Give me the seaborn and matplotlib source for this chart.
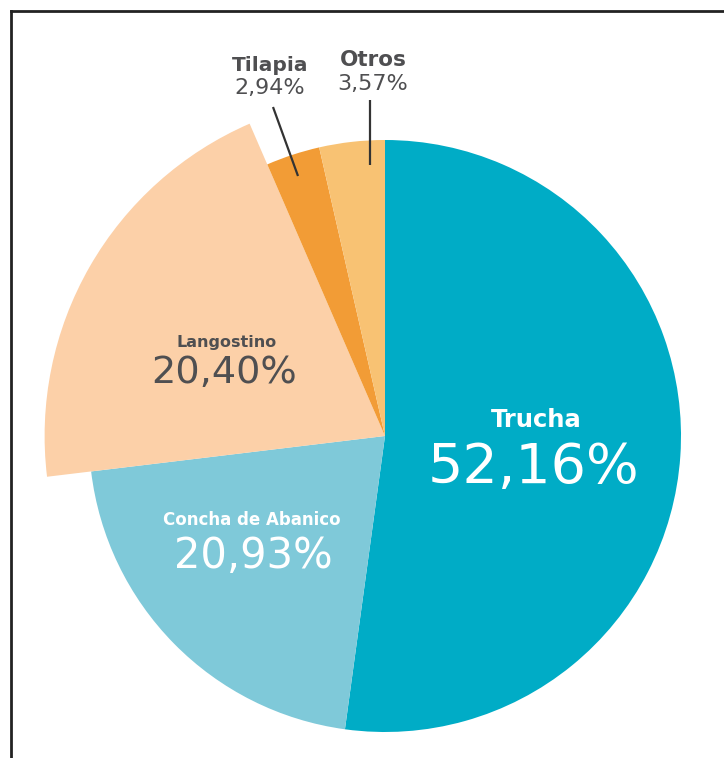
import matplotlib
matplotlib.use("Agg")
import matplotlib.pyplot as plt
import seaborn as sns

# data
species = ["Trucha", "Concha de Abanico", "Langostino", "Tilapia", "Otros"]
shares = [52.16, 20.93, 20.40, 2.94, 3.57]
share_labels = ["52,16%", "20,93%", "20,40%", "2,94%", "3,57%"]
colors = ["#00ACC6", "#7FC9D9", "#FCD0A8", "#F29C36", "#F8C273"]

sns.set_theme(style="white")
plt.rcParams['font.family'] = ['DejaVu Sans']

W, H = 724, 758
fig = plt.figure(figsize=(W / 100, H / 100), dpi=100)
ax = fig.add_axes([0, 0, 1, 1])

palette = sns.color_palette(colors)
cx, cy, r = 385, 436, 296

# y axis is flipped (pixel space), so counterclock + start at 270 = clockwise from top
wedges, _ = ax.pie(shares, colors=palette, startangle=270, counterclock=True,
                   center=(cx, cy), radius=r, frame=True,
                   wedgeprops=dict(linewidth=0))
# Langostino is drawn bigger than the rest
wedges[2].set_radius(r * 1.15)

ax.set_xlim(0, W)
ax.set_ylim(H, 0)
ax.set_aspect('auto')
ax.axis('off')

white = "white"
gray = "#4F4F51"

ax.text(536, 427, species[0], ha='center', va='baseline', fontsize=17.5,
        fontweight='bold', color=white)
ax.text(534, 483, share_labels[0], ha='center', va='baseline', fontsize=40, color=white)

ax.text(252, 525, species[1], ha='center', va='baseline', fontsize=12,
        fontweight='bold', color=white)
ax.text(253, 568, share_labels[1], ha='center', va='baseline', fontsize=30, color=white)

ax.text(227, 347, species[2], ha='center', va='baseline', fontsize=11.5,
        fontweight='bold', color=gray)
ax.text(224, 383, share_labels[2], ha='center', va='baseline', fontsize=27.5, color=gray)

ax.text(270, 71, species[3], ha='center', va='baseline', fontsize=14.5,
        fontweight='bold', color=gray)
ax.text(270, 94, share_labels[3], ha='center', va='baseline', fontsize=16, color=gray)

ax.text(373, 66, species[4], ha='center', va='baseline', fontsize=15.5,
        fontweight='bold', color=gray)
ax.text(373, 90, share_labels[4], ha='center', va='baseline', fontsize=16, color=gray)

# leader lines
ax.plot([273, 298], [107, 176], color="#333333", lw=1.6, solid_capstyle='butt')
ax.plot([370, 370], [100, 165], color="#333333", lw=1.6, solid_capstyle='butt')

# cropped frame (top and left edges only)
ax.plot([11, 11], [H, 10.5], color="#222222", lw=2, solid_capstyle='projecting')
ax.plot([11, W], [10.5, 10.5], color="#222222", lw=2, solid_capstyle='projecting')

fig.savefig("out.png", dpi=100, facecolor="white")
